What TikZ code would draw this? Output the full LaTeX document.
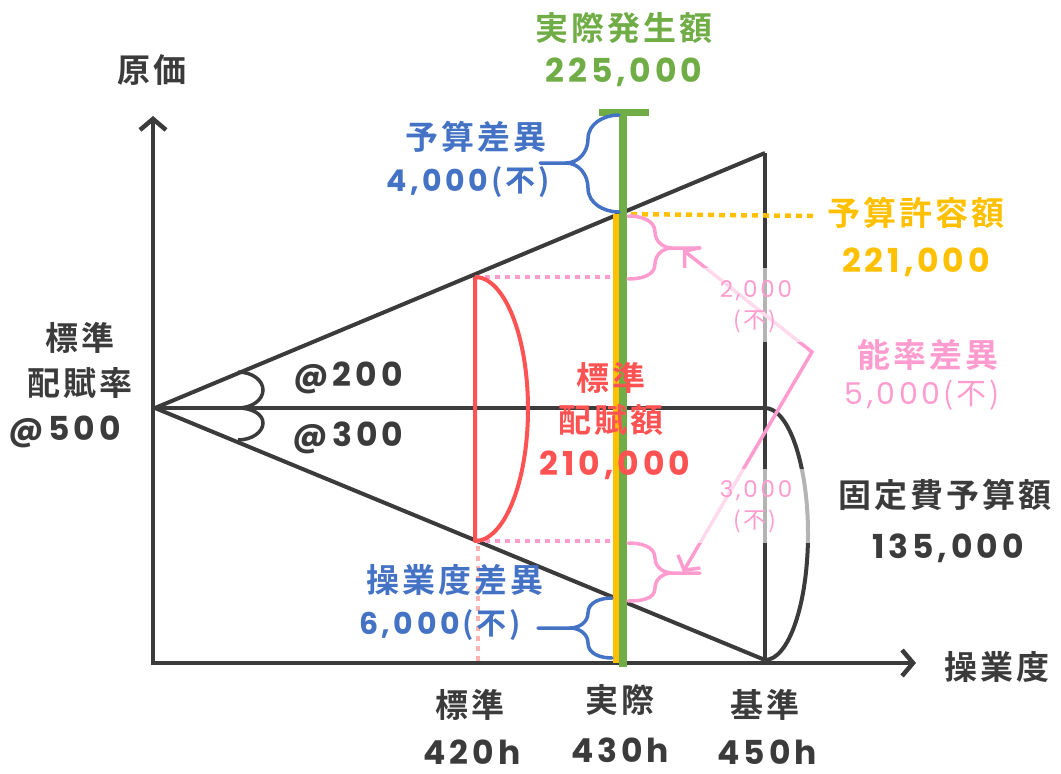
\documentclass[tikz,border=0pt]{standalone}
\usepackage{fontspec}
\setmainfont{Noto Sans CJK JP}[BoldFont={Noto Sans CJK JP Bold},LetterSpace=9]
\newfontfamily\numf{Poppins}[LetterSpace=12]
\usetikzlibrary{arrows.meta}
\definecolor{dk}{HTML}{3B3B3B}
\definecolor{cblue}{HTML}{4472C4}
\definecolor{cgreen}{HTML}{70AD47}
\definecolor{corange}{HTML}{FFC000}
\definecolor{cred}{HTML}{FF5252}
\definecolor{cpink}{HTML}{FF9CCF}
\definecolor{csalmon}{HTML}{FFB3B0}
\tikzset{
  axis/.style={draw=dk,line width=4.5pt,-{Straight Barb[length=11pt,width=26pt,line width=4.5pt]}},
  dkline/.style={draw=dk,line width=4pt},
  lbl/.style={inner sep=0pt,font=\bfseries\fontsize{33}{38}\selectfont},
  smlbl/.style={inner sep=0pt,font=\fontsize{23}{27}\selectfont,text=cpink},
  veil/.style={fill=white,fill opacity=0.62,text opacity=1,minimum width=122pt,minimum height=74pt,align=center,inner sep=0pt},
  pinkdot/.style={draw=cpink,line width=4pt,dash pattern=on 5pt off 5pt},
  brc/.style={line width=3.5pt,line cap=round},
}
\newcommand\fu{\hspace{3pt}(不)}
\begin{document}
\begin{tikzpicture}[x=1pt,y=-1pt]
\useasboundingbox (0,0) rectangle (1061,774);
% key points
\coordinate (O) at (153,665);
\coordinate (Ytop) at (153,116);
\coordinate (Xend) at (916,663);
\coordinate (A) at (155,408);
\coordinate (UR) at (765,153);
\coordinate (MR) at (765,408);
\coordinate (LR) at (765,660);
\coordinate (SU) at (475,277);
\coordinate (SL) at (475,541);
\coordinate (AU) at (620,214);
\coordinate (AUx) at (627,277);
\coordinate (ALx) at (627,541);
\coordinate (AL) at (620,600);
% axes
\draw[axis] (153,665) -- (Ytop);
\draw[axis] (151,663) -- (Xend);
% triangle
\draw[dkline,line join=round] (UR) -- (A) -- (LR);
\draw[dkline] (A) -- (MR);
\draw[dkline] (UR) -- (LR);
% fixed cost half ellipse
\draw[dkline] (MR) .. controls (788.7,408) and (808,464.4) .. (808,534) .. controls (808,603.6) and (788.7,660) .. (LR);
% small angle arcs
\draw[draw=dk,line width=3.5pt] (238,372) .. controls (251.8,372) and (263,380) .. (263,390) .. controls (263,400) and (251.8,408) .. (238,408);
\draw[draw=dk,line width=3.5pt] (238,408) .. controls (251.8,408) and (263,414) .. (263,423) .. controls (263,432) and (251.8,440) .. (238,440);
% pink dotted lines
\draw[pinkdot] (SU) -- (AUx);
\draw[pinkdot] (SL) -- (ALx);
\draw[draw=csalmon,line width=4pt,dash pattern=on 5pt off 5pt] (478,546) -- (478,663);
% red standard allocation
\draw[draw=cred,line width=4pt,line join=round] (SU) -- (SL) .. controls (504.3,541) and (528,481.9) .. (528,409) .. controls (528,336.1) and (504.3,277) .. (SU);
% yellow dotted
\coordinate (Yend) at (815,216);
\draw[draw=corange,line width=4.5pt,dash pattern=on 6pt off 5pt] (AU) -- (Yend);
% orange and green bars
\coordinate (Ob) at (616,663);
\coordinate (Ot) at (616,214);
\draw[draw=corange,line width=7pt] (Ob) -- (Ot);
\coordinate (Gb) at (623,667);
\coordinate (Gt) at (623,112);
\draw[draw=cgreen,line width=8pt] (Gb) -- (Gt);
\coordinate (Tl) at (599,112);
\coordinate (Tr) at (649,112);
\draw[draw=cgreen,line width=7pt] (Tl) -- (Tr);
% blue braces
\draw[brc,draw=cblue] (619,115) to[out=180,in=90] (588,139) to[out=-90,in=0] (566,163) -- (540,163);
\draw[brc,draw=cblue] (619,212) to[out=180,in=-90] (588,188) to[out=90,in=0] (566,163);
\draw[brc,draw=cblue] (612,598) to[out=180,in=90] (588,613) to[out=-90,in=0] (570,628) -- (538,628);
\draw[brc,draw=cblue] (612,658) to[out=180,in=-90] (588,643) to[out=90,in=0] (570,628);
% pink braces
\draw[brc,draw=cpink] (628,216) to[out=0,in=90] (655,232) to[out=-90,in=180] (672,248) -- (700,248);
\draw[brc,draw=cpink] (628,279) to[out=0,in=-90] (655,264) to[out=90,in=180] (672,248);
\draw[brc,draw=cpink] (628,543) to[out=0,in=90] (655,558) to[out=-90,in=180] (672,573) -- (700,573);
\draw[brc,draw=cpink] (628,601) to[out=0,in=-90] (655,588) to[out=90,in=180] (672,573);
% pink arrows
\coordinate (P1) at (683,250);
\coordinate (P0) at (812,352);
\coordinate (P2) at (683,572);
\draw[draw=cpink,line width=3.5pt,line join=miter,{Straight Barb[length=10pt,width=26pt,line width=3.5pt]}-{Straight Barb[length=10pt,width=26pt,line width=3.5pt]}] (P1) -- (P0) -- (P2);
% veiled small labels
\node[veil] (v1) at (756,305) {};
\node[smlbl] (d1) at (756,291) {\numf 2,000};
\node[smlbl] (d1b) at (755,321) {(不)};
\node[veil,minimum width=126pt] (v2) at (750,506) {};
\node[smlbl] (d2) at (756,491) {\numf 3,000};
\node[smlbl] (d2b) at (755,521) {(不)};
% texts
\node[lbl,text=dk] (genka) at (152,70) {原価};
\node[lbl,text=dk] (sgd) at (997,667) {操業度};
\node[lbl,text=cgreen] (jh) at (624,28) {実際発生額};
\node[lbl,text=cgreen] (jhn) at (624,72) {\numf 225,000};
\node[lbl,text=cblue] (ys) at (476,137) {予算差異};
\node[lbl,text=cblue,font=\bfseries\fontsize{30}{34}\selectfont] (ysn) at (468,182) {{\numf 4,000}\fu};
\node[lbl,text=corange] (yk) at (916,213) {予算許容額};
\node[lbl,text=corange] (ykn) at (916,262) {\numf 221,000};
\node[lbl,text=cpink] (nr) at (928,355) {能率差異};
\node[lbl,text=cpink,font=\fontsize{30}{34}\selectfont] (nrn) at (922,395) {{\numf 5,000}\fu};
\node[lbl,text=dk] (hl1) at (80,338) {標準};
\node[lbl,text=dk] (hl2) at (80,383) {配賦率};
\node[lbl,text=dk] (hl3) at (65,432) {\numf @500};
\node[lbl,text=dk] (r200) at (348,378) {\numf @200};
\node[lbl,text=dk] (r300) at (348,438) {\numf @300};
\node[lbl,text=cred] (sh1) at (611,378) {標準};
\node[lbl,text=cred] (sh2) at (611,420) {配賦額};
\node[lbl,text=cred] (sh3) at (615,465) {\numf 210,000};
\node[lbl,text=dk] (kt1) at (945,495) {固定費予算額};
\node[lbl,text=dk] (kt2) at (948,548) {\numf 135,000};
\node[lbl,text=cblue] (sd1) at (455,580) {操業度差異};
\node[lbl,text=cblue,font=\bfseries\fontsize{30}{34}\selectfont] (sd2) at (440,625) {{\numf 6,000}\fu};
\node[lbl,text=dk] (b1) at (470,705) {標準};
\node[lbl,text=dk] (b1n) at (472,752) {\numf 420h};
\node[lbl,text=dk] (b2) at (620,700) {実際};
\node[lbl,text=dk] (b2n) at (620,750) {\numf 430h};
\node[lbl,text=dk] (b3) at (765,705) {基準};
\node[lbl,text=dk] (b3n) at (767,752) {\numf 450h};
\end{tikzpicture}
\end{document}
